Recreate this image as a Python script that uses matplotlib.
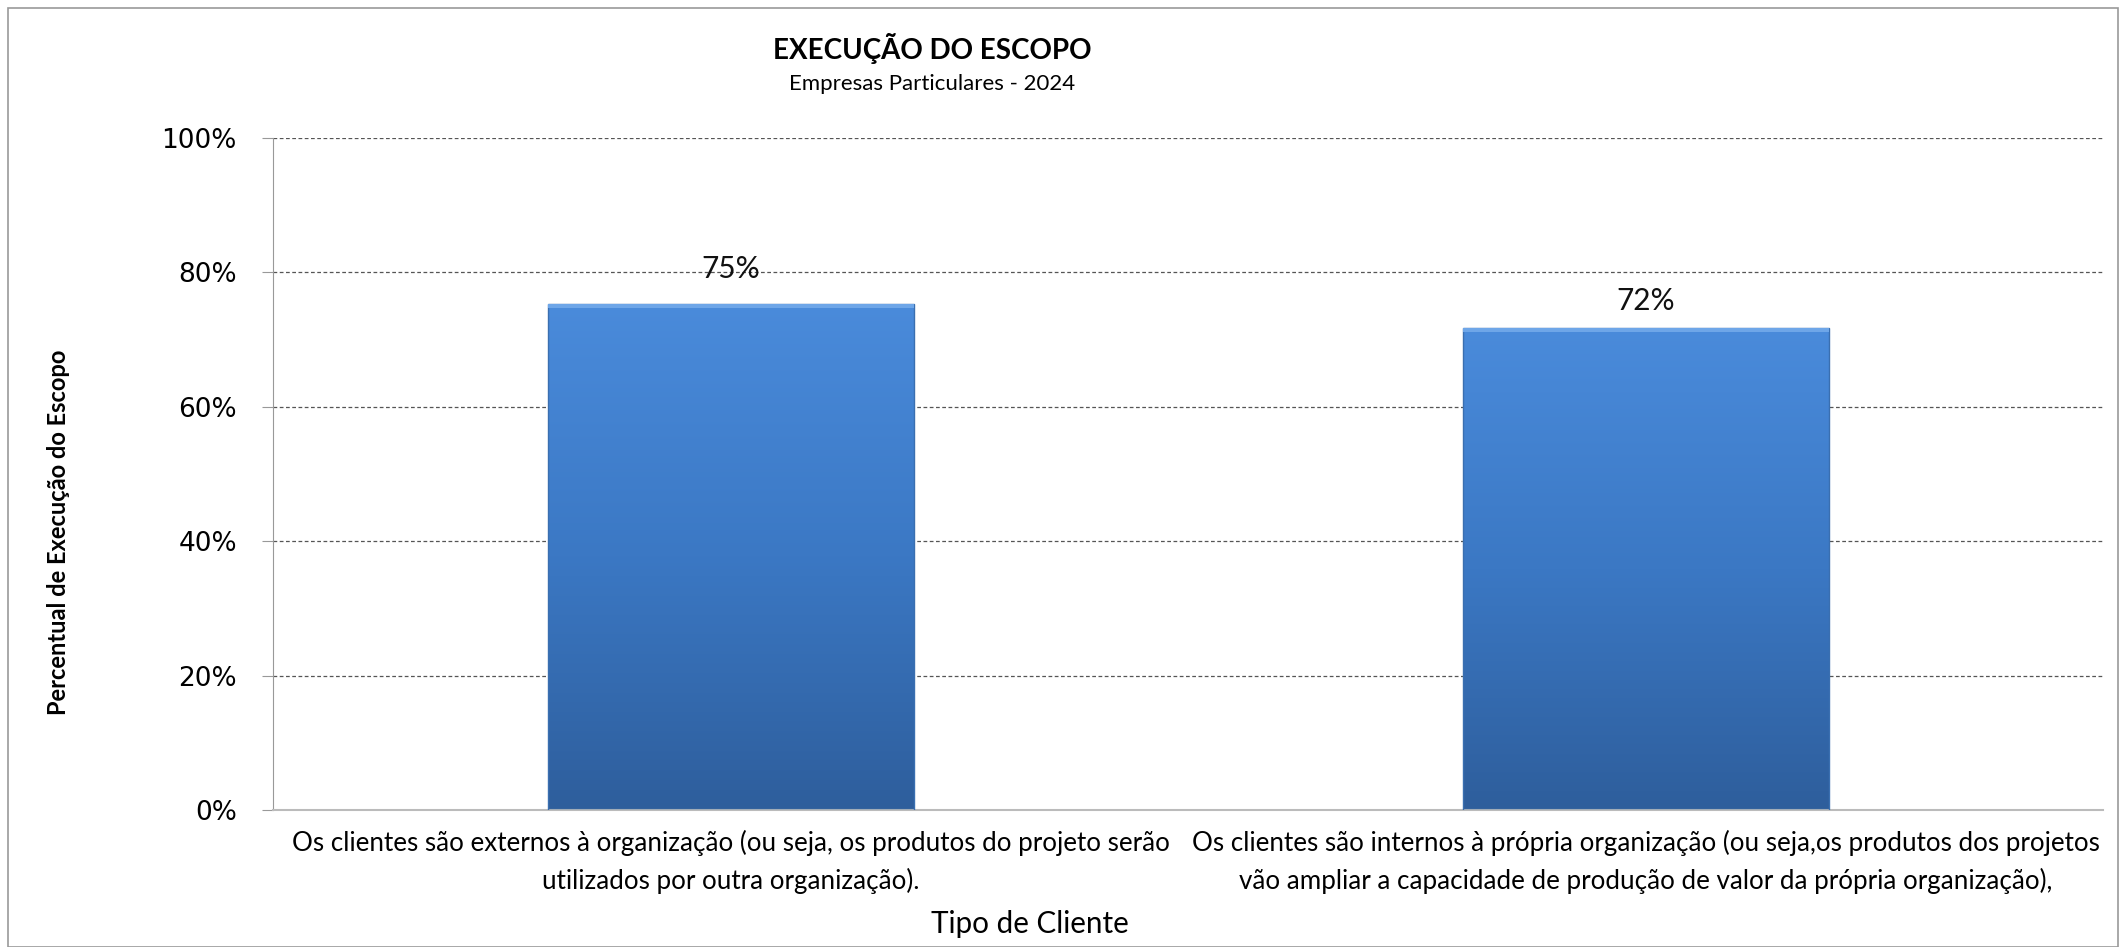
import numpy as np
import matplotlib
matplotlib.use("Agg")
import matplotlib.pyplot as plt
from matplotlib.colors import LinearSegmentedColormap
from matplotlib.patches import Rectangle

# ---------------- Data ----------------
categories = [
    "Os clientes são externos à organização (ou seja, os produtos do projeto serão\nutilizados por outra organização).",
    "Os clientes são internos à própria organização (ou seja,os produtos dos projetos\nvão ampliar a capacidade de produção de valor da própria organização),",
]
values = [75.3, 71.7]
value_labels = ["75%", "72%"]
yticks = [0, 20, 40, 60, 80, 100]
ytick_labels = ["0%", "20%", "40%", "60%", "80%", "100%"]

TITLE = "EXECUÇÃO DO ESCOPO"
SUBTITLE = "Empresas Particulares - 2024"
XLABEL = "Tipo de Cliente"
YLABEL = "Percentual de Execução do Escopo"

TEXT_FONT = ["Lato", "DejaVu Sans"]
TICK_FONT = ["DejaVu Sans"]

# label offset above bar (the first one sits a bit higher, on the 80% gridline)
LABEL_PAD = [3.1, 2.0]

W, H = 2126, 947
fig = plt.figure(figsize=(W / 100, H / 100), dpi=100)
ax = fig.add_axes([273 / W, 1 - 810 / H, (2103 - 273) / W, (810 - 138) / H])

x = np.arange(len(categories))
bar_w = 0.4
bars = ax.bar(x, values, width=bar_w, color="none", edgecolor="#3a6fb0", linewidth=1.0, zorder=3)

# vertical gradient inside each bar
cmap = LinearSegmentedColormap.from_list("bluegrad", ["#2e5e9c", "#3b78c4", "#4a8bdb"])
grad = np.linspace(0, 1, 256).reshape(-1, 1)
for b in bars:
    x0, y0 = b.get_x(), b.get_y()
    bw, bh = b.get_width(), b.get_height()
    im = ax.imshow(grad, extent=(x0, x0 + bw, y0, y0 + bh), origin="lower",
                   cmap=cmap, aspect="auto", zorder=2)
    im.set_clip_path(b)
    # light highlight strip at top
    ax.add_patch(Rectangle((x0, y0 + bh - 0.6), bw, 0.6, color="#6ea6e8", zorder=3, lw=0))

for xi, v, lab, pad in zip(x, values, value_labels, LABEL_PAD):
    ax.text(xi, v + pad, lab, ha="center", va="bottom", fontsize=21.5,
            family=TEXT_FONT, color="#111111")

ax.set_xlim(-0.5, len(categories) - 0.5)
ax.set_ylim(0, 100)
ax.set_yticks(yticks)
ax.set_yticklabels(ytick_labels, family=TICK_FONT, fontsize=19)
ax.set_xticks(x)
ax.set_xticklabels(categories, family=TEXT_FONT, fontsize=18.7, linespacing=1.6)
ax.tick_params(axis="x", length=0, pad=14)
ax.tick_params(axis="y", length=8, color="#999999", pad=18)

ax.grid(axis="y", linestyle=(0, (3, 2)), color="#555555", linewidth=0.9, zorder=1)
ax.set_axisbelow(True)
for s in ["top", "right"]:
    ax.spines[s].set_visible(False)
ax.spines["left"].set_color("#999999")
ax.spines["bottom"].set_color("#bbbbbb")
ax.spines["bottom"].set_linewidth(1.5)

fig.text(932 / W, 1 - 48 / H, TITLE, ha="center", va="center", fontsize=20,
         fontweight="bold", family=TEXT_FONT)
fig.text(932 / W, 1 - 84 / H, SUBTITLE, ha="center", va="center", fontsize=16,
         family=TEXT_FONT)
fig.text(1030 / W, 1 - 924 / H, XLABEL, ha="center", va="center", fontsize=21.3,
         family=TEXT_FONT)
fig.text(59 / W, 1 - 532 / H, YLABEL, ha="center", va="center", rotation=90,
         fontsize=17, fontweight="bold", family=TEXT_FONT)

# outer chart frame
fig.patches.append(Rectangle((8 / W, 0), 1 - 16 / W, 1 - 8 / H, transform=fig.transFigure,
                             fill=False, edgecolor="#999999", linewidth=1.2))

fig.savefig("out.png", dpi=100)
